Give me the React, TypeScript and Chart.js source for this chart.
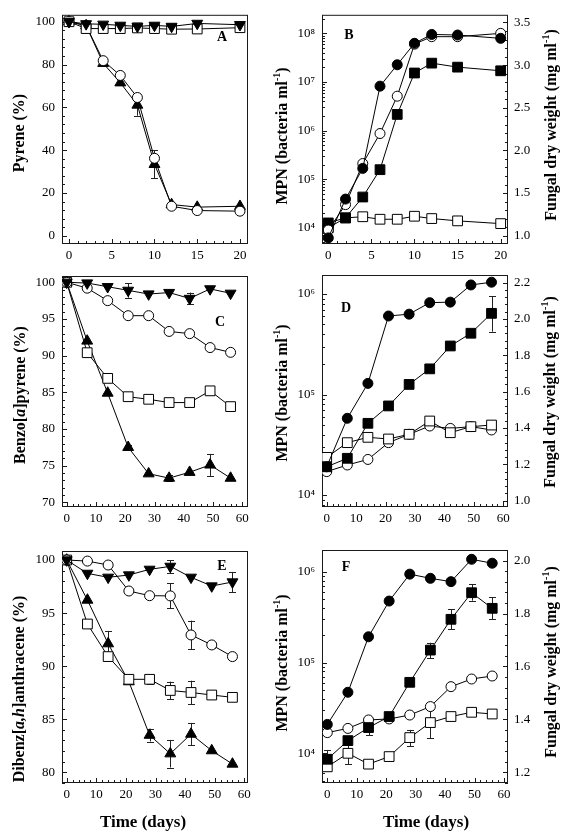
import React, { useEffect, useRef } from "react";
import { Chart, registerables } from "chart.js";

Chart.register(...registerables);

// ---------------- data ----------------
const daysShort = [0, 2, 4, 6, 8, 10, 12, 15, 20];
const daysLong = [0, 7, 14, 21, 28, 35, 42, 49, 56];

const xTicksShort = [0, 5, 10, 15, 20];
const xTicksLong = [0, 10, 20, 30, 40, 50, 60];
const pyreneTicks = [0, 20, 40, 60, 80, 100];
const bapTicks = [70, 75, 80, 85, 90, 95, 100];
const dbaTicks = [80, 85, 90, 95, 100];
const mpnTicksB = [1e4, 1e5, 1e6, 1e7, 1e8];
const mpnTicksDF = [1e4, 1e5, 1e6];
const dryWeightTicksB = [1.0, 1.5, 2.0, 2.5, 3.0, 3.5];
const dryWeightTicksD = [1.0, 1.2, 1.4, 1.6, 1.8, 2.0, 2.2];
const dryWeightTicksF = [1.2, 1.4, 1.6, 1.8, 2.0];

// Panel A: pyrene (%)
const pyreneDownTri = [100, 99.0, 98.8, 98.3, 97.8, 98.3, 97.8, 99.2, 98.6];
const pyreneOpenSquare = [100, 96.8, 96.8, 96.8, 97.1, 96.8, 96.5, 96.6, 97.2];
const pyreneOpenCircle = [100, 98.2, 81.8, 74.9, 64.6, 36.2, 13.8, 11.8, 11.5];
const pyreneUpTri = [100, 98.2, 80.6, 71.5, 61.1, 33.4, 14.6, 13.4, 13.8];
const pyreneUpTriErr = [null, null, null, null, 5, 6.5, null, null, null];

// Panel B: MPN (bacteria/ml)
const mpnBFilledCircle = [6.2e3, 3.9e4, 1.67e5, 8.2e6, 2.26e7, 6.25e7, 9.5e7, 9.25e7, 7.9e7];
const mpnBOpenCircle = [9.0e3, 3.0e4, 2.1e5, 8.7e5, 5.1e6, 6.0e7, 8.55e7, 8.55e7, 1.0e8];
const mpnBFilledSquare = [1.26e4, 1.6e4, 4.3e4, 1.57e5, 2.15e6, 1.53e7, 2.44e7, 2.02e7, 1.7e7];
const mpnBOpenSquare = [1.0e4, 1.6e4, 1.69e4, 1.5e4, 1.5e4, 1.73e4, 1.55e4, 1.39e4, 1.22e4];

// Panel C: benzo[a]pyrene (%)
const bapDownTri = [100, 99.9, 99.4, 98.9, 98.4, 98.6, 97.8, 99.1, 98.5];
const bapDownTriErr = [null, null, null, 1.0, null, null, 0.8, null, null];
const bapOpenCircle = [100, 99.2, 97.5, 95.45, 95.45, 93.3, 93.0, 91.1, 90.45];
const bapOpenSquare = [100, 90.4, 86.9, 84.4, 84.05, 83.6, 83.6, 85.2, 83.05];
const bapOpenSquareErr = [null, null, null, null, null, 0.55, null, null, 0.6];
const bapUpTri = [100, 92.0, 84.9, 77.5, 73.9, 73.3, 74.1, 75.1, 73.3];
const bapUpTriErr = [null, null, null, 0.3, null, 0.45, null, 1.5, null];

// Panel D: MPN (bacteria/ml)
const mpnDFilledCircle = [1.91e4, 5.8e4, 1.29e5, 6.04e5, 6.3e5, 8.2e5, 8.3e5, 1.23e6, 1.31e6];
const mpnDFilledSquare = [1.91e4, 2.32e4, 5.17e4, 7.7e4, 1.26e5, 1.8e5, 3.04e5, 4.07e5, 6.42e5];
const mpnDFilledSquareErr = [null, null, null, null, null, null, null, null, [4.22e5, 9.55e5]];
const mpnDOpenSquare = [2.37e4, 3.32e4, 3.75e4, 3.61e4, 4.02e4, 5.45e4, 4.17e4, 4.79e4, 4.97e4];
const mpnDOpenCircle = [1.71e4, 1.99e4, 2.26e4, 3.32e4, 4.02e4, 4.86e4, 4.6e4, 4.79e4, 4.44e4];

// Panel E: dibenz[a,h]anthracene (%)
const dbaDownTri = [100, 98.74, 98.37, 98.59, 99.12, 99.4, 98.37, 97.55, 97.93];
const dbaDownTriErr = [null, null, null, null, null, 0.6, null, null, 0.95];
const dbaOpenCircle = [100, 99.9, 99.53, 97.08, 96.64, 96.62, 92.94, 92.0, 90.9];
const dbaOpenCircleErr = [null, null, null, null, null, 1.18, 1.35, 0.3, null];
const dbaOpenSquare = [100, 93.97, 90.9, 88.76, 88.76, 87.71, 87.52, 87.28, 87.06];
const dbaOpenSquareErr = [null, null, null, null, 0.42, 0.83, 1.11, null, null];
const dbaUpTri = [100, 96.23, 92.12, 88.54, 83.5, 81.75, 83.6, 82.04, 80.78];
const dbaUpTriErr = [null, null, 1.2, null, 0.6, 1.3, 1.05, null, null];

// Panel F: MPN (bacteria/ml)
const mpnFFilledCircle = [2.08e4, 4.7e4, 1.92e5, 4.75e5, 9.4e5, 8.45e5, 7.77e5, 1.37e6, 1.24e6];
const mpnFFilledSquare = [8.6e3, 1.38e4, 1.92e4, 2.54e4, 6.05e4, 1.37e5, 2.99e5, 5.87e5, 3.95e5];
const mpnFFilledSquareErr = [[7.1e3, 1.09e4], null, [1.59e4, 2.33e4], null, null, [1.11e5, 1.65e5], [2.32e5, 3.85e5], [4.8e5, 7.26e5], [2.99e5, 5.2e5]];
const mpnFOpenCircle = [1.69e4, 1.88e4, 2.33e4, 2.39e4, 2.64e4, 3.27e4, 5.42e4, 6.58e4, 7.1e4];
const mpnFOpenSquare = [7.1e3, 1.0e4, 7.6e3, 9.2e3, 1.49e4, 2.18e4, 2.54e4, 2.83e4, 2.71e4];
const mpnFOpenSquareErr = [null, [7.6e3, 1.29e4], null, null, [1.2e4, 1.81e4], [1.46e4, 3.0e4], null, null, null];

// ---------------- styling ----------------
type Err = number | [number, number] | null;
type MarkerKind = "filledCircle" | "openCircle" | "filledSquare" | "openSquare" | "upTri" | "downTri";
type Series = { data: number[]; marker: MarkerKind; err?: Err[] };
type Seg = { t: string; italic?: boolean; sup?: boolean };

const MARKERS: Record<MarkerKind, { style: string; r: number; fill: string; rot: number }> = {
  filledCircle: { style: "circle", r: 5, fill: "#000", rot: 0 },
  openCircle: { style: "circle", r: 5, fill: "#fff", rot: 0 },
  filledSquare: { style: "rect", r: 6.9, fill: "#000", rot: 0 },
  openSquare: { style: "rect", r: 6.9, fill: "#fff", rot: 0 },
  upTri: { style: "triangle", r: 6.3, fill: "#000", rot: 0 },
  downTri: { style: "triangle", r: 6.3, fill: "#000", rot: 180 },
};

const SERIF = '"Liberation Serif", "Times New Roman", serif';

const supDigits: Record<string, string> = { "0": "⁰", "1": "¹", "2": "²", "3": "³", "4": "⁴", "5": "⁵", "6": "⁶", "7": "⁷", "8": "⁸", "9": "⁹" };
const powLabel = (v: number) => "10" + String(Math.round(Math.log10(v))).split("").map((c) => supDigits[c]).join("");

type AxisSpec = {
  type: "linear" | "logarithmic";
  min: number;
  max: number;
  ticks: number[];
  minorStep?: number; // linear only
  fmt?: (v: number) => string;
};

type TextSpec = { segs: Seg[]; x: number; y: number; size: number; rot: number };

type PanelSpec = {
  id: string;
  canvas: { left: number; top: number; width: number; height: number };
  area: { left: number; right: number; top: number; bottom: number }; // page coords
  days: number[];
  x: AxisSpec;
  y: AxisSpec;
  y2?: AxisSpec;
  series: Series[];
  texts: TextSpec[];
};

const T = (s: string): Seg => ({ t: s });
const mpnTitle: Seg[] = [T("MPN (bacteria ml"), { t: "-1", sup: true }, T(")")];
const fungalTitle: Seg[] = [T("Fungal dry weight (mg ml"), { t: "-1", sup: true }, T(")")];
const ROT = -Math.PI / 2;

const panels: PanelSpec[] = [
  {
    id: "A",
    canvas: { left: 0, top: 0, width: 284, height: 270 },
    area: { left: 62, right: 248, top: 12, bottom: 244 },
    days: daysShort,
    x: { type: "linear", min: -0.82, max: 20.94, ticks: xTicksShort, minorStep: 1 },
    y: { type: "linear", min: -3.83, max: 103.23, ticks: pyreneTicks, minorStep: 4 },
    series: [
      { data: pyreneDownTri, marker: "downTri" },
      { data: pyreneOpenSquare, marker: "openSquare" },
      { data: pyreneOpenCircle, marker: "openCircle" },
      { data: pyreneUpTri, marker: "upTri", err: pyreneUpTriErr },
    ],
    texts: [
      { segs: [T("Pyrene (%)")], x: 20, y: 133, size: 16, rot: ROT },
      { segs: [T("A")], x: 222, y: 37, size: 14, rot: 0 },
    ],
  },
  {
    id: "B",
    canvas: { left: 264, top: 0, width: 304, height: 270 },
    area: { left: 322, right: 508, top: 13, bottom: 244 },
    days: daysShort,
    x: { type: "linear", min: -0.73, max: 20.85, ticks: xTicksShort, minorStep: 1 },
    y: { type: "logarithmic", min: Math.pow(10, 3.667), max: Math.pow(10, 8.382), ticks: mpnTicksB },
    y2: { type: "linear", min: 0.903, max: 3.59, ticks: dryWeightTicksB, minorStep: 0.1, fmt: (v) => v.toFixed(1) },
    series: [
      { data: mpnBFilledCircle, marker: "filledCircle" },
      { data: mpnBOpenCircle, marker: "openCircle" },
      { data: mpnBFilledSquare, marker: "filledSquare" },
      { data: mpnBOpenSquare, marker: "openSquare" },
    ],
    texts: [
      { segs: mpnTitle, x: 283, y: 136, size: 16, rot: ROT },
      { segs: fungalTitle, x: 552, y: 125, size: 16, rot: ROT },
      { segs: [T("B")], x: 349, y: 35, size: 14, rot: 0 },
    ],
  },
  {
    id: "C",
    canvas: { left: 0, top: 258, width: 284, height: 282 },
    area: { left: 62, right: 248, top: 276, bottom: 507 },
    days: daysLong,
    x: { type: "linear", min: -1.61, max: 61.95, ticks: xTicksLong, minorStep: 2 },
    y: { type: "linear", min: 69.36, max: 100.86, ticks: bapTicks, minorStep: 1 },
    series: [
      { data: bapDownTri, marker: "downTri", err: bapDownTriErr },
      { data: bapOpenCircle, marker: "openCircle" },
      { data: bapOpenSquare, marker: "openSquare", err: bapOpenSquareErr },
      { data: bapUpTri, marker: "upTri", err: bapUpTriErr },
    ],
    texts: [
      { segs: [T("Benzo["), { t: "a", italic: true }, T("]pyrene (%)")], x: 21, y: 395, size: 16, rot: ROT },
      { segs: [T("C")], x: 220, y: 322, size: 14, rot: 0 },
    ],
  },
  {
    id: "D",
    canvas: { left: 264, top: 258, width: 304, height: 282 },
    area: { left: 322, right: 508, top: 275, bottom: 507 },
    days: daysLong,
    x: { type: "linear", min: -1.6, max: 61.6, ticks: xTicksLong, minorStep: 2 },
    y: { type: "logarithmic", min: Math.pow(10, 3.881), max: Math.pow(10, 6.189), ticks: mpnTicksDF },
    y2: { type: "linear", min: 0.965, max: 2.242, ticks: dryWeightTicksD, minorStep: 0.04, fmt: (v) => v.toFixed(1) },
    series: [
      { data: mpnDFilledCircle, marker: "filledCircle" },
      { data: mpnDFilledSquare, marker: "filledSquare", err: mpnDFilledSquareErr },
      { data: mpnDOpenSquare, marker: "openSquare" },
      { data: mpnDOpenCircle, marker: "openCircle" },
    ],
    texts: [
      { segs: mpnTitle, x: 283, y: 393, size: 16, rot: ROT },
      { segs: fungalTitle, x: 551, y: 392, size: 16, rot: ROT },
      { segs: [T("D")], x: 346, y: 308, size: 14, rot: 0 },
    ],
  },
  {
    id: "E",
    canvas: { left: 0, top: 530, width: 284, height: 310 },
    area: { left: 62, right: 248, top: 551, bottom: 783 },
    days: daysLong,
    x: { type: "linear", min: -1.59, max: 61.25, ticks: xTicksLong, minorStep: 2 },
    y: { type: "linear", min: 78.99, max: 100.85, ticks: dbaTicks, minorStep: 1 },
    series: [
      { data: dbaDownTri, marker: "downTri", err: dbaDownTriErr },
      { data: dbaOpenCircle, marker: "openCircle", err: dbaOpenCircleErr },
      { data: dbaOpenSquare, marker: "openSquare", err: dbaOpenSquareErr },
      { data: dbaUpTri, marker: "upTri", err: dbaUpTriErr },
    ],
    texts: [
      { segs: [T("Dibenz["), { t: "a,h", italic: true }, T("]anthracene (%)")], x: 20, y: 689, size: 16, rot: ROT },
      { segs: [T("E")], x: 222, y: 566, size: 14, rot: 0 },
      { segs: [T("Time (days)")], x: 143, y: 823, size: 17, rot: 0 },
    ],
  },
  {
    id: "F",
    canvas: { left: 264, top: 530, width: 304, height: 310 },
    area: { left: 322, right: 508, top: 550, bottom: 783 },
    days: daysLong,
    x: { type: "linear", min: -1.8, max: 61.36, ticks: xTicksLong, minorStep: 2 },
    y: { type: "logarithmic", min: Math.pow(10, 3.673), max: Math.pow(10, 6.239), ticks: mpnTicksDF },
    y2: { type: "linear", min: 1.16, max: 2.04, ticks: dryWeightTicksF, minorStep: 0.04, fmt: (v) => v.toFixed(1) },
    series: [
      { data: mpnFFilledCircle, marker: "filledCircle" },
      { data: mpnFFilledSquare, marker: "filledSquare", err: mpnFFilledSquareErr },
      { data: mpnFOpenCircle, marker: "openCircle" },
      { data: mpnFOpenSquare, marker: "openSquare", err: mpnFOpenSquareErr },
    ],
    texts: [
      { segs: mpnTitle, x: 283, y: 663, size: 16, rot: ROT },
      { segs: fungalTitle, x: 552, y: 662, size: 16, rot: ROT },
      { segs: [T("F")], x: 346, y: 567, size: 14, rot: 0 },
      { segs: [T("Time (days)")], x: 426, y: 823, size: 17, rot: 0 },
    ],
  },
];

// ---------------- helpers ----------------
function drawRich(ctx: CanvasRenderingContext2D, t: TextSpec, ox: number, oy: number) {
  ctx.save();
  ctx.translate(t.x - ox, t.y - oy);
  ctx.rotate(t.rot);
  const fontFor = (s: Seg) => `${s.italic ? "italic " : ""}bold ${s.sup ? Math.round(t.size * 0.62) : t.size}px ${SERIF}`;
  const widths = t.segs.map((s) => {
    ctx.font = fontFor(s);
    return ctx.measureText(s.t).width;
  });
  const total = widths.reduce((a, b) => a + b, 0);
  let x = -total / 2;
  ctx.fillStyle = "#000";
  ctx.textAlign = "left";
  ctx.textBaseline = "middle";
  t.segs.forEach((s, i) => {
    ctx.font = fontFor(s);
    ctx.fillText(s.t, x, s.sup ? -t.size * 0.33 : 0);
    x += widths[i];
  });
  ctx.restore();
}

function tickSets(ax: AxisSpec) {
  const major: number[] = [];
  const minor: number[] = [];
  if (ax.type === "logarithmic") {
    const d0 = Math.floor(Math.log10(ax.min));
    const d1 = Math.ceil(Math.log10(ax.max));
    for (let d = d0; d <= d1; d++) {
      for (let m = 1; m <= 9; m++) {
        const v = m * Math.pow(10, d);
        if (v < ax.min || v > ax.max) continue;
        (m === 1 ? major : minor).push(v);
      }
    }
  } else {
    ax.ticks.forEach((v) => major.push(v));
    const step = ax.minorStep || 0;
    if (step > 0) {
      const i0 = Math.ceil(ax.min / step - 1e-9);
      const i1 = Math.floor(ax.max / step + 1e-9);
      for (let i = i0; i <= i1; i++) {
        const v = i * step;
        if (!ax.ticks.some((t) => Math.abs(t - v) < step * 0.01)) minor.push(v);
      }
    }
  }
  return { major, minor };
}

function makeDecor(spec: PanelSpec) {
  return {
    id: "decor" + spec.id,
    beforeDatasetsDraw(chart: any) {
      const ctx: CanvasRenderingContext2D = chart.ctx;
      const a = chart.chartArea;
      const xs = chart.scales.x;
      const ys = chart.scales.y;
      ctx.save();
      ctx.strokeStyle = "#1a1a1a";
      ctx.lineWidth = 1;
      ctx.strokeRect(a.left + 0.5, a.top + 0.5, a.right - a.left - 1, a.bottom - a.top - 1);

      const line = (x1: number, y1: number, x2: number, y2: number) => {
        ctx.beginPath();
        ctx.moveTo(x1, y1);
        ctx.lineTo(x2, y2);
        ctx.stroke();
      };
      const MAJ = 5;
      const MIN = 3;
      // bottom axis ticks
      const xt = tickSets(spec.x);
      xt.major.forEach((v) => {
        const p = Math.round(xs.getPixelForValue(v)) + 0.5;
        line(p, a.bottom, p, a.bottom - MAJ);
      });
      xt.minor.forEach((v) => {
        const p = Math.round(xs.getPixelForValue(v)) + 0.5;
        line(p, a.bottom, p, a.bottom - MIN);
      });
      // left axis ticks
      const yt = tickSets(spec.y);
      yt.major.forEach((v) => {
        const p = Math.round(ys.getPixelForValue(v)) + 0.5;
        line(a.left, p, a.left + MAJ, p);
      });
      yt.minor.forEach((v) => {
        const p = Math.round(ys.getPixelForValue(v)) + 0.5;
        line(a.left, p, a.left + MIN, p);
      });
      // right axis ticks
      if (spec.y2) {
        const y2s = chart.scales.y2;
        const rt = tickSets(spec.y2);
        rt.major.forEach((v) => {
          const p = Math.round(y2s.getPixelForValue(v)) + 0.5;
          line(a.right, p, a.right - MAJ, p);
        });
        rt.minor.forEach((v) => {
          const p = Math.round(y2s.getPixelForValue(v)) + 0.5;
          line(a.right, p, a.right - MIN, p);
        });
      }

      // error bars
      ctx.strokeStyle = "#222";
      spec.series.forEach((s) => {
        if (!s.err) return;
        s.err.forEach((e, j) => {
          if (e == null) return;
          const v = s.data[j];
          const lo = Array.isArray(e) ? e[0] : v - e;
          const hi = Array.isArray(e) ? e[1] : v + e;
          const x = Math.round(xs.getPixelForValue(spec.days[j])) + 0.5;
          const y1 = ys.getPixelForValue(lo);
          const y2 = ys.getPixelForValue(hi);
          line(x, y1, x, y2);
          line(x - 3.5, Math.round(y1) + 0.5, x + 3.5, Math.round(y1) + 0.5);
          line(x - 3.5, Math.round(y2) + 0.5, x + 3.5, Math.round(y2) + 0.5);
        });
      });
      ctx.restore();
    },
    afterDraw(chart: any) {
      const ctx: CanvasRenderingContext2D = chart.ctx;
      spec.texts.forEach((t) => drawRich(ctx, t, spec.canvas.left, spec.canvas.top));
    },
  };
}

function buildScale(ax: AxisSpec, position: string, axis: "x" | "y", size: number, padding: number) {
  return {
    type: ax.type,
    position,
    min: ax.min,
    max: ax.max,
    grid: { display: false, drawTicks: false },
    border: { display: false },
    title: { display: false },
    ticks: {
      autoSkip: false,
      maxRotation: 0,
      minRotation: 0,
      padding,
      color: "#000",
      font: { family: SERIF, size: 13 },
      callback: (v: number) => (ax.type === "logarithmic" ? powLabel(v) : ax.fmt ? ax.fmt(v) : String(v)),
    },
    afterBuildTicks: (s: any) => {
      s.ticks = ax.ticks.map((v) => ({ value: v }));
    },
    afterFit: (s: any) => {
      if (axis === "x") s.height = size;
      else s.width = size;
    },
  };
}

function buildConfig(spec: PanelSpec): any {
  const c = spec.canvas;
  const aL = spec.area.left - c.left;
  const aR = spec.area.right - c.left;
  const aT = spec.area.top - c.top;
  const aB = spec.area.bottom - c.top;
  const scales: any = {
    x: buildScale(spec.x, "bottom", "x", c.height - aB, 4),
    y: buildScale(spec.y, "left", "y", aL, 7),
  };
  let padRight = c.width - aR;
  if (spec.y2) {
    scales.y2 = buildScale(spec.y2, "right", "y", c.width - aR, 6);
    padRight = 0;
  }
  return {
    type: "line",
    data: {
      datasets: spec.series.map((s) => {
        const m = MARKERS[s.marker];
        return {
          data: s.data.map((v, j) => ({ x: spec.days[j], y: v })),
          yAxisID: "y",
          borderColor: "#000",
          borderWidth: 1,
          tension: 0,
          fill: false,
          pointStyle: m.style,
          pointRadius: m.r,
          pointRotation: m.rot,
          pointBackgroundColor: m.fill,
          pointBorderColor: "#000",
          pointBorderWidth: 1,
        };
      }),
    },
    options: {
      responsive: false,
      animation: false,
      devicePixelRatio: 1,
      events: [],
      layout: { padding: { left: 0, right: padRight, top: aT, bottom: 0 } },
      plugins: { legend: { display: false }, tooltip: { enabled: false }, title: { display: false } },
      scales,
    },
    plugins: [makeDecor(spec)],
  };
}

function Panel({ spec }: { spec: PanelSpec }) {
  const ref = useRef<HTMLCanvasElement>(null);
  useEffect(() => {
    if (!ref.current) return;
    const chart = new Chart(ref.current, buildConfig(spec));
    return () => chart.destroy();
  }, [spec]);
  const c = spec.canvas;
  return (
    <canvas
      ref={ref}
      width={c.width}
      height={c.height}
      style={{ position: "absolute", left: c.left, top: c.top, width: c.width, height: c.height }}
    />
  );
}

export default function App() {
  return (
    <div style={{ position: "absolute", left: 0, top: 0, width: 568, height: 840, background: "#fff", overflow: "hidden" }}>
      {panels.map((p) => (
        <Panel key={p.id} spec={p} />
      ))}
    </div>
  );
}
